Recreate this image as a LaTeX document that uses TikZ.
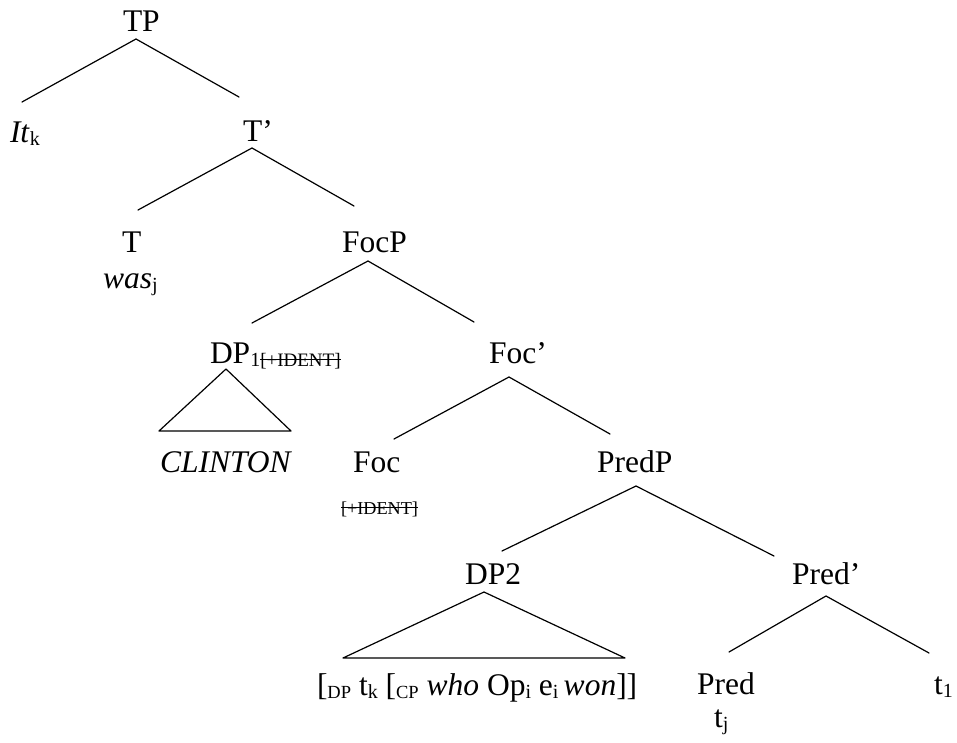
\documentclass[tikz,border=0pt]{standalone}
\usepackage{fontspec}
\setmainfont{Liberation Serif}

% subscript, subscript caps, and struck-through feature text
\newcommand\sbs[1]{\raisebox{-3pt}{\fontsize{20}{20}\selectfont #1}}
\newcommand\scs[1]{\raisebox{-3pt}{\fontsize{18.5}{20}\selectfont #1}}
\newcommand\strk[1]{\setbox0=\hbox{#1}\rlap{\rule[0.31em]{\wd0}{0.9pt}}\box0}

\tikzset{
  lbl/.style={anchor=base west, inner sep=0pt, outer sep=0pt,
              font=\fontsize{31.5}{36}\selectfont},
  feat/.style={anchor=base west, inner sep=0pt, outer sep=0pt,
              font=\fontsize{18.2}{20}\selectfont},
  branch/.style={line width=1.2pt, line cap=round, line join=round}
}

\begin{document}
\begin{tikzpicture}[x=1pt, y=-1pt]
\useasboundingbox (0,0) rectangle (957,743);

% labels
\node[lbl] (tp)      at (123,32)  {TP};
\node[lbl] (itk)     at (10,143)  {\textit{It}\sbs{k}};
\node[lbl] (tbar)    at (243,142) {T’};
\node[lbl] (t)       at (122,252) {T};
\node[lbl] (was)     at (103,288) {\textit{was}\sbs{j}};
\node[lbl] (focp)    at (342,252) {FocP};
\node[lbl] (dp1)     at (210,363) {DP\raisebox{-3pt}{\fontsize{20}{20}\selectfont 1\fontsize{19}{20}\selectfont\strk{[+IDENT]}}};
\node[lbl] (focbar)  at (489,363) {Foc’};
\node[lbl] (clinton) at (160,472) {\textit{CLINTON}};
\node[lbl] (foc)     at (353,472) {Foc};
\node[feat] (ident)  at (341,514) {\strk{[+IDENT]}};
\node[lbl] (predp)   at (597,472) {PredP};
\node[lbl] (dp2)     at (465,584) {DP2};
\node[lbl] (predbar) at (792,584) {Pred’};
\node[lbl] (rel)     at (317,695) {[\scs{DP} t\sbs{k} [\scs{CP} \textit{who} Op\sbs{i} e\sbs{i}\,\textit{won}]]};
\node[lbl] (pred)    at (697,694) {Pred};
\node[lbl] (tj)      at (714,727) {t\sbs{j}};
\node[lbl] (t1)      at (934,694) {t\sbs{1}};

% branch points
\coordinate (tp-a)  at (136,39);  \coordinate (tp-l)  at (22,102);  \coordinate (tp-r)  at (239,97);
\coordinate (tb-a)  at (252,148); \coordinate (tb-l)  at (138,210); \coordinate (tb-r)  at (354,206);
\coordinate (fp-a)  at (368,261); \coordinate (fp-l)  at (252,323); \coordinate (fp-r)  at (474,322);
\coordinate (d1-a)  at (226,369); \coordinate (d1-l)  at (159,431); \coordinate (d1-r)  at (291,431);
\coordinate (fb-a)  at (509,377); \coordinate (fb-l)  at (394,439); \coordinate (fb-r)  at (610,434);
\coordinate (pp-a)  at (636,486); \coordinate (pp-l)  at (502,551); \coordinate (pp-r)  at (774,556);
\coordinate (d2-a)  at (484,592); \coordinate (d2-l)  at (343,658); \coordinate (d2-r)  at (625,658);
\coordinate (pb-a)  at (826,596); \coordinate (pb-l)  at (729,652); \coordinate (pb-r)  at (929,653);

% branches
\draw[branch] (tp-l) -- (tp-a) -- (tp-r);
\draw[branch] (tb-l) -- (tb-a) -- (tb-r);
\draw[branch] (fp-l) -- (fp-a) -- (fp-r);
\draw[branch] (fb-l) -- (fb-a) -- (fb-r);
\draw[branch] (pp-l) -- (pp-a) -- (pp-r);
\draw[branch] (pb-l) -- (pb-a) -- (pb-r);
% roofs
\draw[branch] (d1-a) -- (d1-l) -- (d1-r) -- cycle;
\draw[branch] (d2-a) -- (d2-l) -- (d2-r) -- cycle;
\end{tikzpicture}
\end{document}
